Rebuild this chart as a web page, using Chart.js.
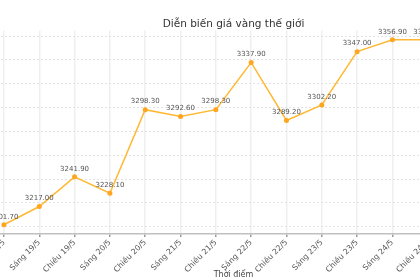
<!DOCTYPE html>
<html>
<head>
<meta charset="utf-8">
<script src="https://cdn.jsdelivr.net/npm/chart.js@4"></script>
<style>
    html, body { margin: 0; padding: 0; width: 420px; height: 280px; overflow: hidden; background: #fff; }
    /* the reference is a crop of a wider chart, so the canvas sticks out on both sides */
    #wrap { position: absolute; left: -100px; top: 0; width: 666px; height: 280px; }
</style>
</head>
<body>
<div id="wrap"><canvas id="grafico" width="666" height="280"></canvas></div>
<script>
const labels = ["Chiều 18/5", "Sáng 19/5", "Chiều 19/5", "Sáng 20/5", "Chiều 20/5", "Sáng 21/5",
    "Chiều 21/5", "Sáng 22/5", "Chiều 22/5", "Sáng 23/5", "Chiều 23/5", "Sáng 24/5", "Chiều 24/5"];
const precos = [3201.70, 3217.00, 3241.90, 3228.10, 3298.30, 3292.60,
    3298.30, 3337.90, 3289.20, 3302.20, 3347.00, 3356.90, 3356.90];

// axis ranges of the original (it keeps going past the right edge of the crop)
const xRange = [-0.65, 13.65];
const yRange = [3193.94, 3364.66];
const yStep = 20;

Chart.defaults.font.family = "'DejaVu Sans', sans-serif";

document.addEventListener("DOMContentLoaded", function () {
    const graficoCanvas = document.getElementById("grafico");

    // valores em cima de cada ponto
    const valueLabels = {
        id: "valueLabels",
        afterDatasetsDraw(chart) {
            const ctx = chart.ctx;
            const meta = chart.getDatasetMeta(0);
            ctx.save();
            ctx.font = "7px 'DejaVu Sans'";
            ctx.fillStyle = "#555";
            ctx.textAlign = "center";
            ctx.textBaseline = "middle";
            meta.data.forEach((pt, i) => {
                ctx.fillText(precos[i].toFixed(2), pt.x, pt.y - 8);
            });
            ctx.restore();
        },
    };

    const data = {
        datasets: [
            {
                label: "Giá vàng",
                data: precos.map((v, i) => ({ x: i, y: v })),
                borderColor: "#ffb833",
                backgroundColor: "#ffa51f",
                borderWidth: 1.5,
                pointRadius: 2.5,
                pointBorderWidth: 0,
                tension: 0,
                clip: false,
            },
        ],
    };

    const config = {
        type: "line",
        data: data,
        options: {
            responsive: false,
            animation: false,
            layout: { padding: { left: 81, right: 80, top: 18, bottom: 0 } },
            plugins: {
                legend: { display: false },
                tooltip: { enabled: false },
                title: {
                    display: true,
                    text: "Diễn biến giá vàng thế giới",
                    color: "#333",
                    font: { size: 10.5, weight: "normal" },
                    padding: { top: 0, bottom: 0 },
                },
            },
            scales: {
                x: {
                    type: "linear",
                    min: xRange[0],
                    max: xRange[1],
                    afterFit: (s) => { s.height = 46; },
                    ticks: {
                        stepSize: 1,
                        includeBounds: false,
                        autoSkip: false,
                        minRotation: 45,
                        maxRotation: 45,
                        padding: 1,
                        color: "#555",
                        font: { size: 7.8 },
                        callback: (v) => labels[v],
                    },
                    grid: { color: "#efefef", lineWidth: 1.5, tickColor: "#999", tickLength: 3 },
                    border: { color: "#c0c0c0", width: 1.5 },
                    title: {
                        display: true,
                        text: "Thời điểm",
                        color: "#444",
                        font: { size: 8 },
                        padding: { top: 0, bottom: 0 },
                    },
                },
                y: {
                    min: yRange[0],
                    max: yRange[1],
                    ticks: { display: false, stepSize: yStep, includeBounds: false },
                    grid: { color: "#e3e3e3", lineWidth: 1, drawTicks: false },
                    border: { display: false, dash: [2, 2] },
                },
            },
        },
        plugins: [valueLabels],
    };

    new Chart(graficoCanvas, config);
});
</script>
</body>
</html>
